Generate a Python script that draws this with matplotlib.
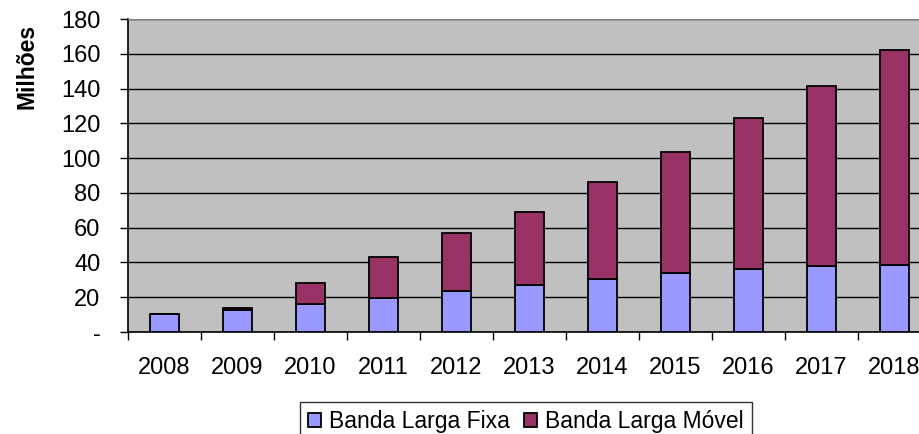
import matplotlib
matplotlib.use("Agg")
import matplotlib.pyplot as plt
import numpy as np

# dados (milhoes)
anos = ["2008", "2009", "2010", "2011", "2012", "2013", "2014", "2015", "2016", "2017", "2018"]
fixa = [10.3, 12.4, 15.9, 19.3, 23.6, 27.0, 30.3, 33.7, 36.4, 38.1, 38.7]
movel = [0.0, 1.2, 12.0, 24.0, 33.1, 41.8, 56.1, 69.8, 86.6, 103.5, 123.2]

plt.rcParams['font.family'] = ['Liberation Sans', 'DejaVu Sans']

fig = plt.figure(figsize=(9.2, 4.34), dpi=100)
ax = fig.add_axes([128 / 920, 102 / 434, 803 / 920, 313 / 434])
ax.set_facecolor("#C0C0C0")

x = np.arange(len(anos))
b1 = ax.bar(x, fixa, width=0.4, color="#9999FF", edgecolor="black", linewidth=1.3,
            label="Banda Larga Fixa", zorder=3)
b2 = ax.bar(x, movel, width=0.4, bottom=fixa, color="#993366", edgecolor="black",
            linewidth=1.3, label="Banda Larga Móvel", zorder=3)

ax.set_xlim(-0.5, len(anos) - 0.5)
ax.set_ylim(0, 180)
ax.set_yticks(range(0, 181, 20))
ax.set_yticklabels(["-"] + [str(v) for v in range(20, 181, 20)])
ax.yaxis.grid(True, color="black", linewidth=1.0, zorder=1)
ax.set_axisbelow(True)

ax.set_xticks(x)
ax.set_xticklabels(anos)
ax.set_xticks(np.arange(-0.5, len(anos), 1), minor=True)
ax.tick_params(axis="x", which="major", length=0, pad=18, labelsize=17)
ax.tick_params(axis="x", which="minor", length=5.8, width=1, direction="out")
ax.tick_params(axis="y", length=5.8, width=1, direction="out", pad=14, labelsize=17)

ax.spines["top"].set_color("#808080")
ax.spines["right"].set_visible(False)
ax.spines["left"].set_linewidth(1.2)
ax.spines["bottom"].set_linewidth(1.2)

ax.set_ylabel("Milhões", fontsize=16.5, fontweight="bold")
ax.yaxis.set_label_coords(-0.112, 0.85)

leg = fig.legend(handles=[b1, b2], loc="upper left", bbox_to_anchor=(300 / 920, 32.3 / 434),
                 ncol=2, fontsize=16.5, frameon=True, fancybox=False, borderaxespad=0,
                 handlelength=0.58, handleheight=0.58, handletextpad=0.35,
                 columnspacing=0.6, borderpad=0.35)
leg.get_frame().set_edgecolor("black")
leg.get_frame().set_linewidth(1.0)

plt.savefig("out.png", dpi=100)
